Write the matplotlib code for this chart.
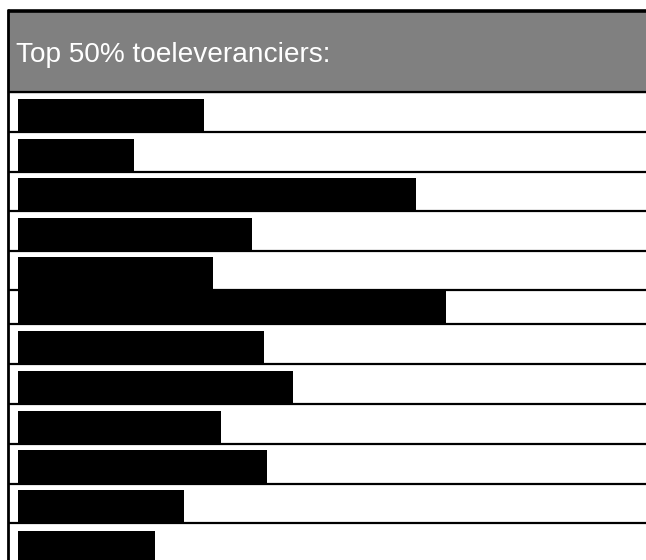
import matplotlib
matplotlib.use('Agg')
import matplotlib.pyplot as plt

# header text and bar lengths (in pixels of the original table)
title = 'Top 50% toeleveranciers:'
barLengths = [186, 116, 398, 234, 195, 428, 246, 275, 203, 249, 166, 137]

# row separator lines (y, pixels from top) and bar extents per row
rowLines = [92, 132, 172, 211, 251, 290, 324, 364, 404, 444, 484, 523, 562]
barTops = [99, 139, 178, 218, 257, 290, 331, 371, 411, 450, 490, 531]
barBottoms = [132, 171, 210, 250, 290, 325, 363, 403, 443, 483, 522, 562]

W, H = 646, 560
fig = plt.figure(figsize=(W / 100, H / 100), dpi=100)
ax = fig.add_axes([0, 0, 1, 1])
ax.set_xlim(0, W)
ax.set_ylim(H, 0)
ax.axis('off')

# header band
ax.fill_between([8, W], 11, 92, color='#808080', zorder=1)
ax.plot([8, W], [10.5, 10.5], color='black', lw=2.6, zorder=3, solid_capstyle='butt')
ax.plot([8, 8], [9, H], color='black', lw=2.0, zorder=3, solid_capstyle='butt')
ax.text(16, 62, title, color='white', fontsize=20.2, family='Liberation Sans',
        va='baseline', ha='left', zorder=4)

# row lines
for y in rowLines[:-1]:
    ax.plot([8, W], [y, y], color='black', lw=1.6, zorder=2, solid_capstyle='butt')

# bars
for length, top, bottom in zip(barLengths, barTops, barBottoms):
    ax.barh((top + bottom) / 2, length, height=bottom - top, left=18,
            color='black', zorder=3)

fig.savefig('out.png', dpi=100)
